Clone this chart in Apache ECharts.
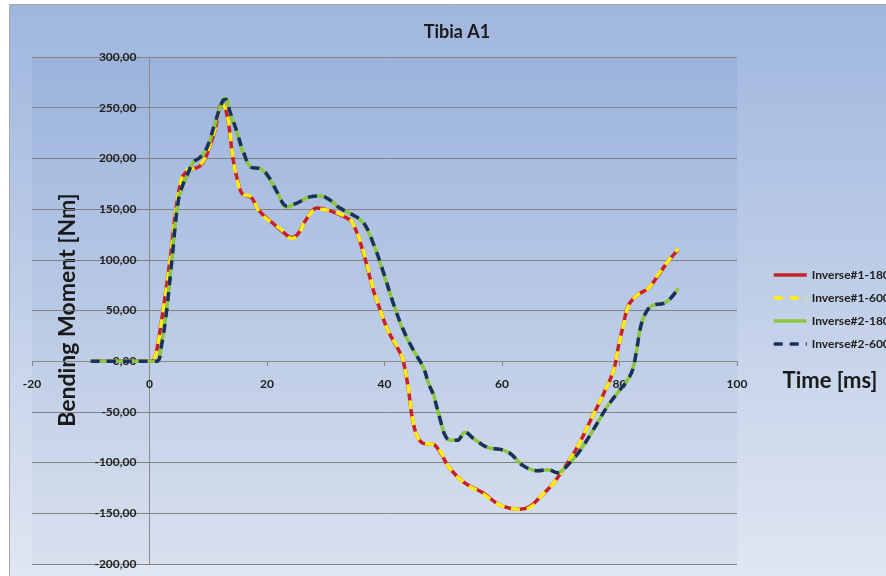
<!DOCTYPE html>
<html>
<head>
<meta charset="utf-8">
<script src="https://cdn.jsdelivr.net/npm/echarts@6/dist/echarts.min.js"></script>
<style>
  html, body { margin: 0; padding: 0; background: #fff; }
  #chart { width: 886px; height: 576px; }
</style>
<title>Tibia A1</title>
</head>
<body>
<div id="chart"></div>
<script>
// time axis in ms, bending moment in Nm
var seriesNames = ['Inverse#1-180', 'Inverse#1-600', 'Inverse#2-180', 'Inverse#2-600'];

var time1 = [-10, -5, 0, 0.8, 1.5, 2.3, 3.5, 4.5, 5.5, 6.5, 7.5, 8.5, 9.5, 11, 12.4, 13.3, 14.2, 15, 15.8, 17.4, 18.3, 19.4, 21, 22.8, 24.2, 25.2, 26.8, 28.5, 30.4, 33.3, 34.5, 36.2, 38.1, 39.3, 40.6, 42.4, 43.2, 44.1, 44.7, 45.5, 46.6, 48.3, 49.5, 50.9, 53.4, 56.8, 59.7, 63.1, 64.8, 66.5, 68.8, 70.5, 72.8, 75.1, 77.3, 79, 79.8, 80.7, 81.5, 83, 84.9, 86.4, 88.2, 90];
var inv1_180 = [0, 0, 0, 2, 20, 50, 100, 150, 180, 188, 190, 192, 200, 225, 255, 240, 200, 178, 165, 161, 151, 144, 136, 127, 122, 125, 141, 151, 149, 142, 137, 111, 70, 50, 30, 11, 0, -29, -55, -73, -81, -82, -90, -104, -119, -130, -142, -146, -143, -134, -120, -106, -85, -58, -32, -9, 14, 37, 55, 65, 72, 83, 98, 110];
var inv1_600 = [0, 0, 0, 2, 19, 49, 99, 149, 181, 189, 190, 193, 201, 226, 254, 241, 201, 177, 165, 162, 151, 143, 136, 128, 121, 124, 141, 150, 149, 143, 137, 112, 71, 50, 30, 12, 0, -28, -54, -73, -81, -82, -89, -104, -119, -131, -142, -146, -144, -134, -120, -106, -85, -58, -32, -9, 14, 36, 54, 65, 72, 84, 98, 111];

var time2 = [-10, -5, 0, 1.3, 2, 2.9, 3.8, 4.9, 5.8, 6.6, 7.4, 8.6, 9.8, 11.2, 12.5, 13, 13.7, 14.9, 16, 17.4, 18.8, 20.5, 21.7, 23.4, 25.1, 27.3, 29, 30.7, 32.4, 34.7, 36.4, 38.1, 39.8, 41.5, 43.2, 44.9, 46.6, 47.5, 48.3, 49.5, 50.3, 51.2, 52.4, 53.7, 55.1, 57.5, 59.7, 61.4, 63.6, 66, 67.9, 69.4, 71.1, 73.3, 75.5, 77.9, 80.1, 81.2, 82.2, 83, 83.6, 84.4, 85.6, 87.5, 88.7, 90];
var inv2_180 = [0, 0, 0, 0, 15, 50, 100, 159, 175, 185, 196, 201, 210, 235, 258, 259, 245, 225, 205, 191, 190, 179, 167, 152, 156, 162, 163, 159, 151, 144, 136, 116, 87, 57, 30, 11, -6, -22, -32, -58, -73, -78, -78, -70, -76, -85, -87, -91, -103, -108, -107, -110, -103, -88, -68, -45, -28, -20, -9, 14, 34, 47, 55, 57, 62, 72];
var inv2_600 = [0, 0, 0, 0, 14, 49, 99, 158, 176, 186, 196, 201, 211, 236, 257, 258, 246, 226, 206, 191, 190, 180, 167, 153, 156, 162, 163, 159, 151, 144, 137, 116, 88, 57, 31, 11, -6, -22, -33, -58, -73, -78, -78, -70, -76, -85, -87, -91, -103, -108, -107, -110, -103, -88, -68, -45, -28, -20, -9, 14, 34, 47, 55, 57, 62, 72];

var colors = ['#c8202a', '#ffee10', '#8cc63e', '#1c2f62'];

function pairs(ts, vs) {
  var out = [];
  for (var i = 0; i < ts.length; i++) out.push([ts[i], vs[i]]);
  return out;
}

var myChart = echarts.init(document.getElementById('chart'));

// plot box
var gLeft = 32, gRight = 149, gTop = 57, gBottom = 12;
var plotW = 886 - gLeft - gRight, plotH = 576 - gTop - gBottom;
var xMin = -20, xMax = 100, yMin = -200, yMax = 300;

var labelFont = { color: '#1e1e1e', fontSize: 12, fontWeight: 'bold', fontFamily: 'Lato' };

var option = {
  animation: false,
  backgroundColor: '#fff',
  color: colors,
  title: {
    text: 'Tibia A1',
    left: 452,
    textAlign: 'center',
    top: 18,
    textStyle: { fontFamily: 'Lato', fontSize: 18, fontWeight: 'bold', color: '#1a1a1a' }
  },
  grid: {
    left: gLeft, right: gRight, top: gTop, bottom: gBottom,
    containLabel: false,
    outerBoundsMode: 'none',
    show: true,
    borderWidth: 0,
    backgroundColor: new echarts.graphic.LinearGradient(0, 0, 0, 1, [
      { offset: 0, color: '#9bb3dc' },
      { offset: 1, color: '#d8e0ee' }
    ])
  },
  legend: {
    orient: 'vertical',
    left: 767,
    top: 264,
    itemWidth: 33,
    itemHeight: 14,
    itemGap: 11,
    data: seriesNames,
    itemStyle: { opacity: 0 },
    lineStyle: { width: 3.5 },
    textStyle: { color: '#1e1e1e', fontSize: 12, fontWeight: 'bold', fontFamily: 'Lato' }
  },
  xAxis: {
    type: 'value',
    min: xMin, max: xMax, interval: 20,
    offset: -plotH * (0 - yMin) / (yMax - yMin),
    axisLine: { onZero: false, lineStyle: { color: '#8a8a8a' } },
    axisTick: { show: true, length: 5, lineStyle: { color: '#8a8a8a' } },
    axisLabel: Object.assign({ margin: 17 }, labelFont),
    splitLine: { show: false }
  },
  yAxis: {
    type: 'value',
    min: yMin, max: yMax, interval: 50,
    offset: -plotW * (0 - xMin) / (xMax - xMin),
    axisLine: { onZero: false, lineStyle: { color: '#8a8a8a' } },
    axisTick: { show: false },
    axisLabel: Object.assign({
      margin: 13,
      formatter: function (v) { return v.toFixed(2).replace('.', ','); }
    }, labelFont),
    splitLine: { show: true, lineStyle: { color: '#828282', width: 1 } }
  },
  graphic: [
    {
      type: 'rect', z: -10, silent: true,
      shape: { x: 9.5, y: 4.5, width: 900, height: 600 },
      style: {
        fill: new echarts.graphic.LinearGradient(0, 0, 0, 1, [
          { offset: 0, color: '#9fb6de' },
          { offset: 1, color: '#e3e9f3' }
        ]),
        stroke: '#a8a8a8', lineWidth: 1
      }
    },
    {
      type: 'text', x: 68, y: 310, rotation: Math.PI / 2,
      style: {
        text: 'Bending Moment [Nm]', fill: '#1a1a1a',
        font: 'bold 23px Lato', align: 'center', verticalAlign: 'middle'
      }
    },
    {
      type: 'text', x: 830, y: 381,
      style: {
        text: 'Time [ms]', fill: '#1a1a1a',
        font: 'bold 22px Lato', align: 'center', verticalAlign: 'middle'
      }
    }
  ],
  series: [
    {
      name: seriesNames[0], type: 'line', smooth: 0.4, symbol: 'none',
      data: pairs(time1, inv1_180),
      lineStyle: { width: 3.5, color: colors[0] }
    },
    {
      name: seriesNames[1], type: 'line', smooth: 0.4, symbol: 'none',
      data: pairs(time1, inv1_600),
      lineStyle: { width: 3.5, color: colors[1], type: [9, 7] }
    },
    {
      name: seriesNames[2], type: 'line', smooth: 0.4, symbol: 'none',
      data: pairs(time2, inv2_180),
      lineStyle: { width: 3.5, color: colors[2] }
    },
    {
      name: seriesNames[3], type: 'line', smooth: 0.4, symbol: 'none',
      data: pairs(time2, inv2_600),
      lineStyle: { width: 3.5, color: colors[3], type: [9, 7] }
    }
  ]
};

myChart.setOption(option);
</script>
</body>
</html>
